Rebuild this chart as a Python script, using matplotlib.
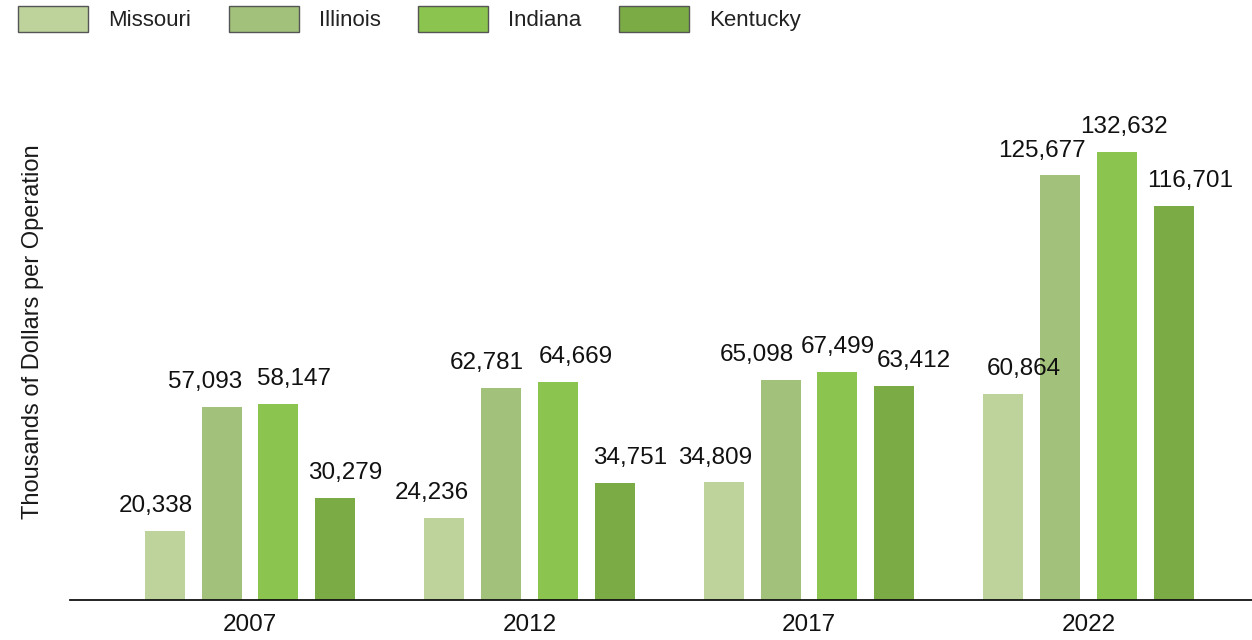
import numpy as np
import matplotlib
matplotlib.use("Agg")
import matplotlib.pyplot as plt
from matplotlib.patches import Patch

years = ["2007", "2012", "2017", "2022"]
states = ["Missouri", "Illinois", "Indiana", "Kentucky"]
missouri = [20338, 24236, 34809, 60864]
illinois = [57093, 62781, 65098, 125677]
indiana = [58147, 64669, 67499, 132632]
kentucky = [30279, 34751, 63412, 116701]
colors = ["#bdd39b", "#a2c17a", "#8bc44e", "#7aab44"]

# horizontal nudges (points) for the value labels so neighbours don't collide
label_dx = [
    [-6, -9, -6, 15],     # Missouri
    [-12, -10, -17, -13],  # Illinois
    [11, 13, 0, 5],       # Indiana
    [7, 11, 14, 12],      # Kentucky
]

plt.rcParams["font.family"] = ["Liberation Sans", "DejaVu Sans"]

fig = plt.figure(figsize=(12.52, 6.4), dpi=100)
ax = fig.add_axes([70 / 1252, 40 / 640, 1182 / 1252, 500 / 640])

x = np.arange(len(years))
step = 0.2036
width = 0.143
series = [missouri, illinois, indiana, kentucky]

for i, (name, vals, c) in enumerate(zip(states, series, colors)):
    pos = x + (i - 1.5) * step
    bars = ax.bar(pos, vals, width, color=c, label=name)
    for j, (b, v) in enumerate(zip(bars, vals)):
        ax.annotate(f"{v:,}", (b.get_x() + b.get_width() / 2, v),
                    xytext=(label_dx[i][j], 10), textcoords="offset points",
                    ha="center", va="bottom", fontsize=17.5, color="#111111")

ax.set_xlim(-0.644, 3.585)
ax.set_ylim(0, 148000)
ax.set_xticks(x)
ax.set_xticklabels(years, fontsize=17.5, color="#111111")
ax.tick_params(axis="x", length=0, pad=10)
ax.set_yticks([])
for s in ["top", "right", "left"]:
    ax.spines[s].set_visible(False)
ax.spines["bottom"].set_linewidth(1.3)
ax.spines["bottom"].set_color("#111111")

fig.text(33 / 1252, 1 - 332 / 640, "Thousands of Dollars per Operation",
         rotation=90, ha="center", va="center", fontsize=17, color="#1a1a1a")

# legend swatches with a thin dark outline
handles = [Patch(facecolor=c, edgecolor="#555555", linewidth=1.0, label=s)
           for s, c in zip(states, colors)]
leg = fig.legend(handles=handles, loc="upper left", ncol=4,
                 bbox_to_anchor=(18 / 1252, 1 - 6 / 640), frameon=False,
                 borderaxespad=0, borderpad=0, fontsize=16,
                 handlelength=3.15, handleheight=1.4, handletextpad=0.9,
                 columnspacing=1.7, labelcolor="#222222")

fig.savefig("out.png", dpi=100)
